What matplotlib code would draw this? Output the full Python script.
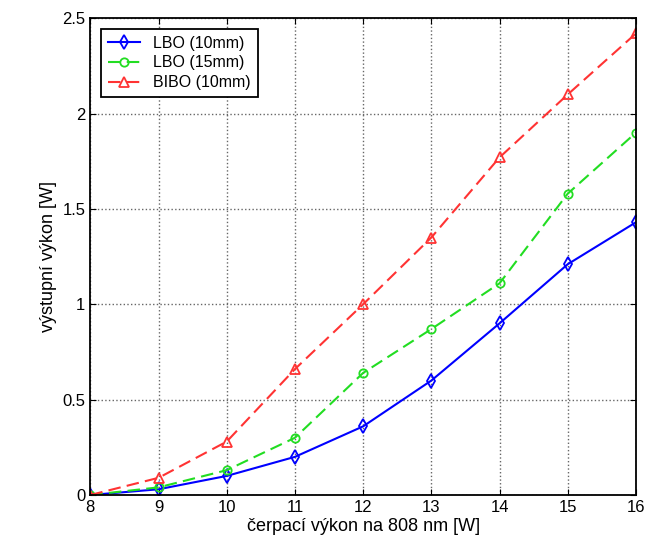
import matplotlib
matplotlib.use("Agg")
import matplotlib.pyplot as plt

plt.rcParams['font.family'] = ['Liberation Sans', 'DejaVu Sans']

x = [8, 9, 10, 11, 12, 13, 14, 15, 16]
lbo10 = [0, 0.03, 0.10, 0.20, 0.36, 0.60, 0.90, 1.21, 1.43]
lbo15 = [0, 0.04, 0.13, 0.30, 0.64, 0.87, 1.11, 1.58, 1.90]
bibo10 = [0, 0.09, 0.28, 0.66, 1.00, 1.35, 1.77, 2.10, 2.42]
labels = ['LBO (10mm)', 'LBO (15mm)', 'BIBO (10mm)']

fig = plt.figure(figsize=(6.45, 5.5), dpi=100)
ax = fig.add_axes([0.14, 0.1, 0.846, 0.867])

ax.plot(x, lbo10, '-', color='#0000ff', marker='d', ms=7, mfc='none', mew=1.3, lw=1.5, label=labels[0])
ax.plot(x, lbo15, '--', color='#22dd22', marker='o', ms=6, mfc='none', mew=1.3, lw=1.5, dashes=(6, 3), label=labels[1])
ax.plot(x, bibo10, '--', color='#ff3333', marker='^', ms=7, mfc='none', mew=1.3, lw=1.5, dashes=(6, 3), label=labels[2])

ax.set_xlim(8, 16)
ax.set_ylim(0, 2.5)
ax.set_xticks(x)
ax.set_yticks([0, 0.5, 1, 1.5, 2, 2.5])
ax.set_yticklabels(['0', '0.5', '1', '1.5', '2', '2.5'])
ax.grid(True, linestyle=':', color='#666666', lw=1.0)
ax.tick_params(direction='in', labelsize=12, top=True, right=True, length=4)
for s in ax.spines.values():
    s.set_linewidth(1.3)

ax.set_xlabel('čerpací výkon na 808 nm [W]', fontsize=13, labelpad=2)
ax.set_ylabel('výstupní výkon [W]', fontsize=13)

leg = ax.legend(loc='upper left', fontsize=11.5, fancybox=False, edgecolor='black',
                framealpha=1, handlelength=2.0, borderpad=0.45, labelspacing=0.3,
                bbox_to_anchor=(0.005, 0.995))
leg.get_frame().set_linewidth(1.3)

fig.savefig('out.png', dpi=100)
